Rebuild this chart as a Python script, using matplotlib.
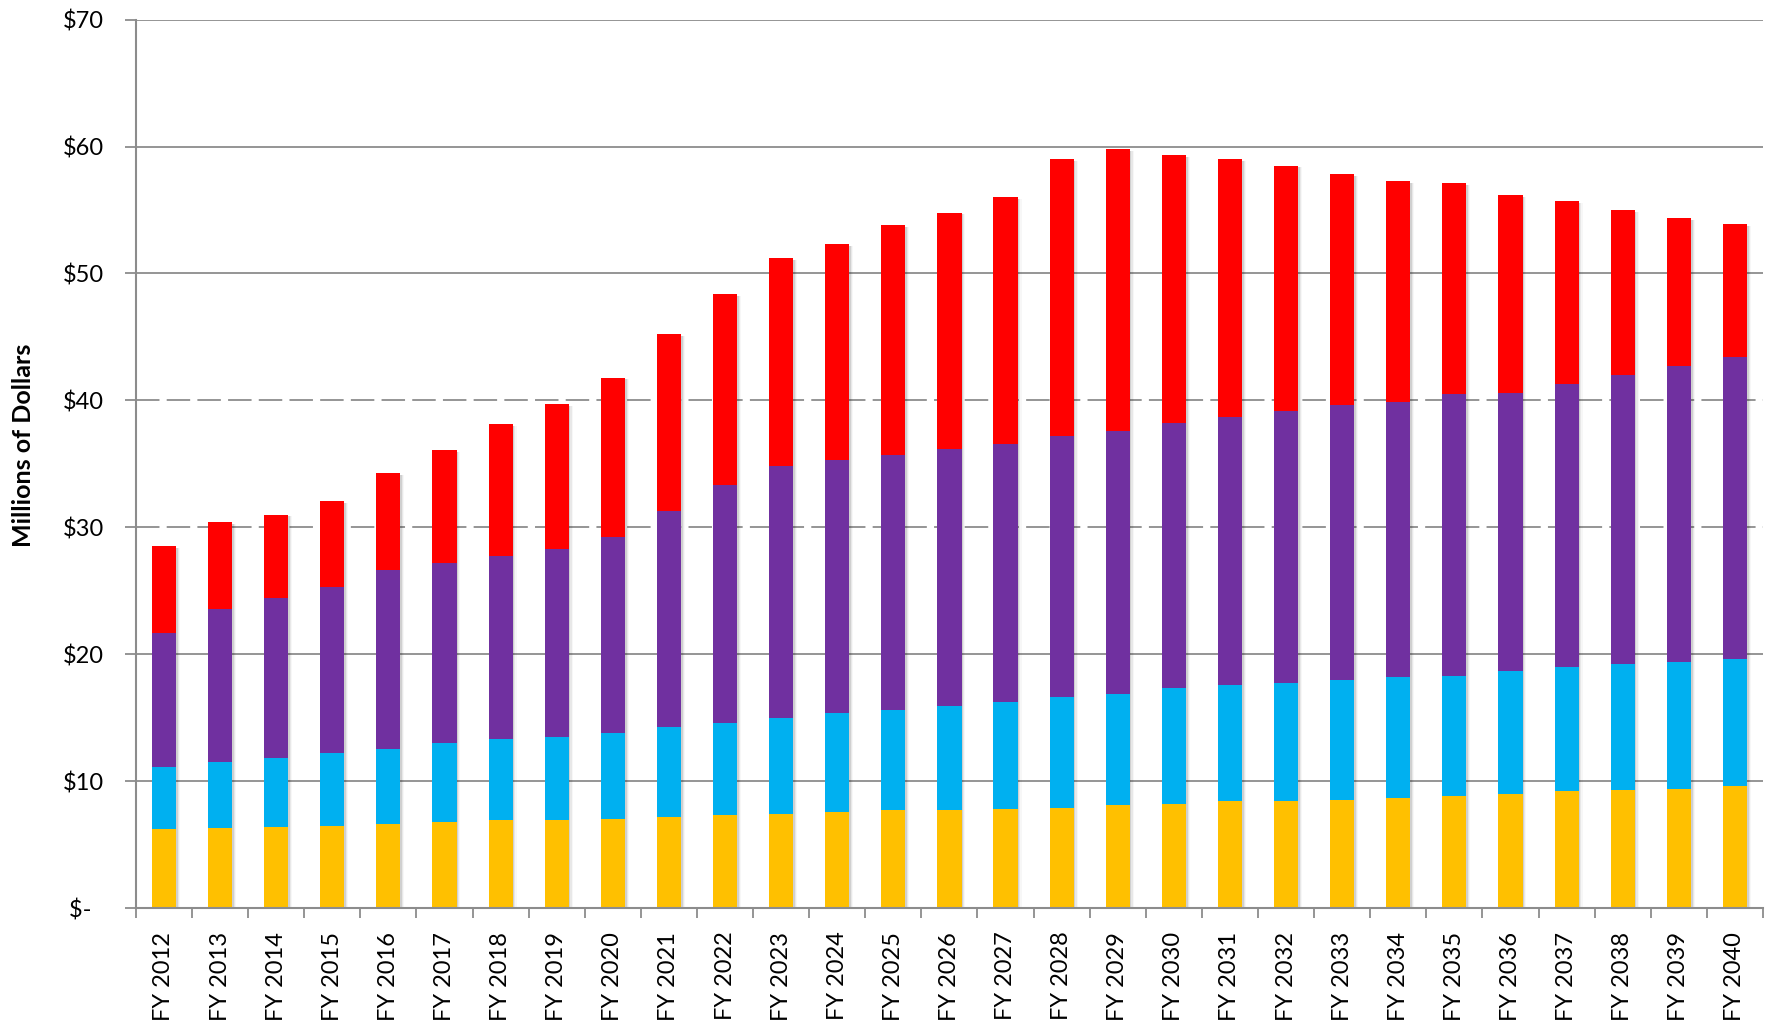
import numpy as np
import matplotlib
matplotlib.use("Agg")
import matplotlib.pyplot as plt

# fiscal years on the x axis
years = ["FY %d" % y for y in range(2012, 2041)]

# stacked segments (millions of dollars), bottom to top
yellow = [6.2, 6.3, 6.4, 6.5, 6.6, 6.8, 6.9, 6.9, 7.0, 7.2, 7.3, 7.4, 7.6, 7.7, 7.7,
          7.8, 7.9, 8.1, 8.2, 8.4, 8.4, 8.5, 8.7, 8.8, 9.0, 9.2, 9.3, 9.4, 9.6]
blue = [4.9, 5.2, 5.4, 5.7, 5.9, 6.2, 6.4, 6.6, 6.8, 7.1, 7.3, 7.6, 7.8, 7.9, 8.2,
        8.4, 8.7, 8.8, 9.1, 9.2, 9.3, 9.5, 9.5, 9.5, 9.7, 9.8, 9.9, 10.0, 10.0]
purple = [10.6, 12.1, 12.6, 13.1, 14.1, 14.2, 14.4, 14.8, 15.4, 17.0, 18.7, 19.8,
          19.9, 20.1, 20.3, 20.4, 20.6, 20.7, 20.9, 21.1, 21.5, 21.6, 21.7, 22.2,
          21.9, 22.3, 22.8, 23.3, 23.8]
red = [6.8, 6.8, 6.6, 6.8, 7.7, 8.9, 10.4, 11.4, 12.6, 13.9, 15.1, 16.4, 17.0,
       18.1, 18.6, 19.4, 21.8, 22.2, 21.1, 20.3, 19.3, 18.2, 17.4, 16.6, 15.6,
       14.4, 13.0, 11.7, 10.5]

colors = ["#FFC000", "#00B0F0", "#7030A0", "#FF0000"]
yticks = [0, 10, 20, 30, 40, 50, 60, 70]
ytick_labels = ["$-  ", "$10", "$20", "$30", "$40", "$50", "$60", "$70"]

plt.rcParams['font.family'] = ['Lato', 'DejaVu Sans']

fig = plt.figure(figsize=(17.72, 10.23), dpi=100)
ax = fig.add_axes([0.0767, 0.1124, 0.9949 - 0.0767, 0.9808 - 0.1124])

x = np.arange(len(years))
totals = np.sum([yellow, blue, purple, red], axis=0)

# soft drop shadow behind each stack
for off, a in [(0.03, 0.10), (0.05, 0.06), (0.07, 0.03)]:
    ax.bar(x + off, totals - 0.15, width=0.43, color="black", alpha=a,
           zorder=2, linewidth=0)

bottom = np.zeros(len(years))
for seg, c in zip([yellow, blue, purple, red], colors):
    ax.bar(x, seg, width=0.43, bottom=bottom, color=c, zorder=3)
    bottom += np.array(seg)

# gridlines (30 and 40 dashed in the original)
grid_c = "#8c8c8c"
for v in [10, 20, 50, 60, 70]:
    ax.axhline(v, color=grid_c, lw=1.3, zorder=1)
for v in [30, 40]:
    ax.axhline(v, color=grid_c, lw=1.3, ls=(0, (13, 4)), zorder=1)

ax.set_xlim(-0.5, len(years) - 0.5)
ax.set_ylim(0, 70)

ax.set_yticks(yticks)
ax.set_yticklabels(ytick_labels, fontsize=17)
ax.tick_params(axis='y', length=8, width=1.3, color=grid_c, pad=15)

ax.set_xticks(x)
ax.set_xticklabels(years, rotation=90, fontsize=17)
ax.set_xticks(np.arange(-0.5, len(years)), minor=True)
ax.tick_params(axis='x', which='major', length=0, pad=17)
ax.tick_params(axis='x', which='minor', length=7, width=1.3, color=grid_c)

for side in ['top', 'right']:
    ax.spines[side].set_visible(False)
for side in ['left', 'bottom']:
    ax.spines[side].set_color(grid_c)
    ax.spines[side].set_linewidth(1.5)
    ax.spines[side].set_zorder(4)

fig.text(0.013, 0.565, "Millions of Dollars", rotation=90, fontsize=18,
         fontweight='bold', ha='center', va='center')

fig.savefig("out.png", dpi=100)
